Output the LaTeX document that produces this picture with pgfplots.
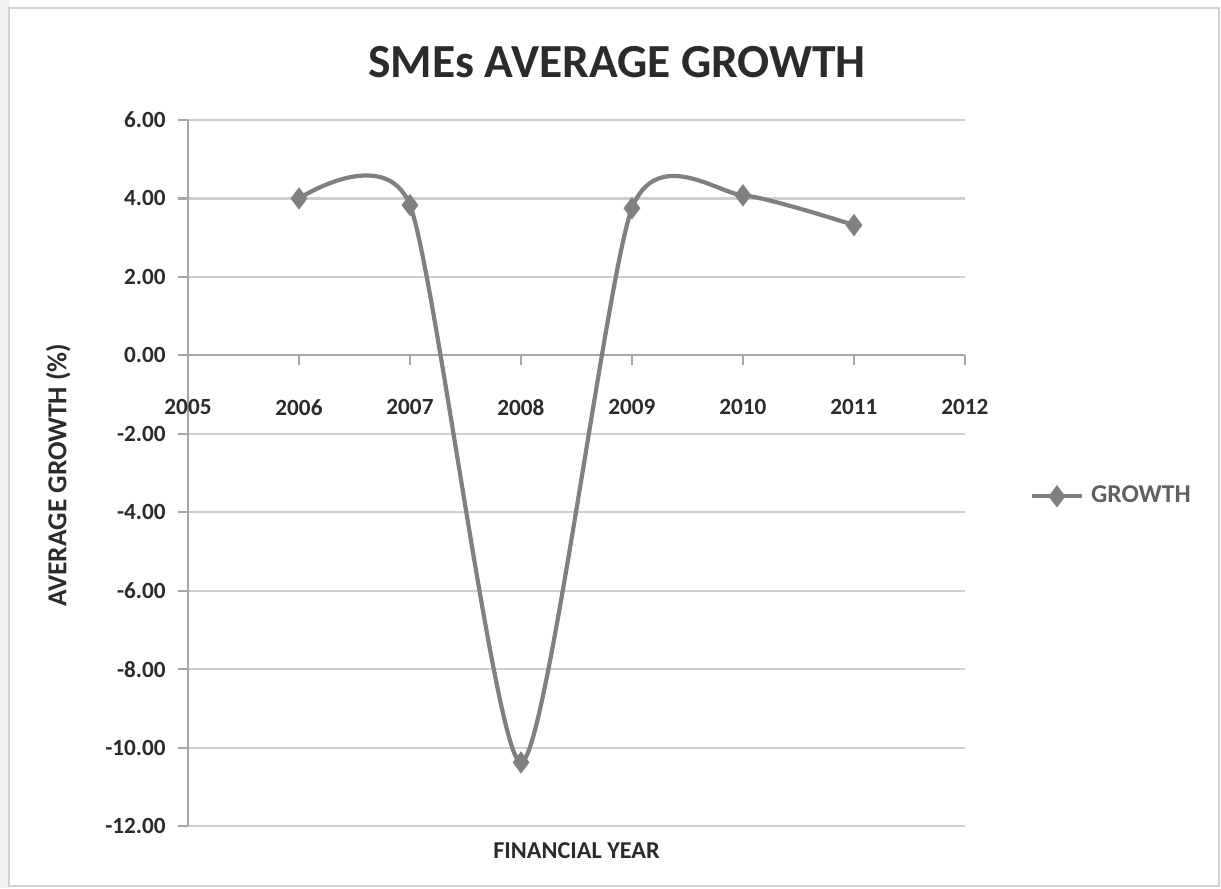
\documentclass[border=0pt]{standalone}
\usepackage{pgfplots}
\pgfplotsset{compat=1.18}
\usepackage{fontspec}
\setmainfont{Carlito}
\definecolor{linegray}{HTML}{808080}
\definecolor{gridgray}{HTML}{CFCFCF}
\definecolor{axisgray}{HTML}{A6A6A6}
\definecolor{txt}{HTML}{2B2B2B}
\begin{document}
\begin{tikzpicture}[x=1cm,y=1cm]
\useasboundingbox (0,0) rectangle (12.21,8.88);
\fill[gray!12] (0,0) rectangle (0.09,8.88);
\draw[gray!35, line width=0.4pt] (0.09,0.02) rectangle (12.19,8.80);
\node[font=\fontsize{13.5}{16}\selectfont\bfseries, text=txt] at (6.17,8.26) {SMEs AVERAGE GROWTH};
\begin{axis}[
  at={(1.88cm,0.62cm)}, anchor=south west,
  scale only axis, width=7.77cm, height=7.06cm,
  xmin=2005, xmax=2012, ymin=-12, ymax=6,
  axis x line=middle, axis y line=left,
  hide obscured x ticks=false,
  axis line style={-, axisgray, line width=0.6pt},
  xtick={2005,2006,...,2012},
  xticklabels={2005,2006,2007,2008,2009,2010,2011,2012},
  ytick={-12,-10,...,6},
  ymajorgrids,
  grid style={gridgray, line width=0.6pt},
  tick style={axisgray, line width=0.6pt},
  major tick length=0.1cm,
  tick align=outside,
  xticklabel style={font=\fontsize{6.6}{8}\selectfont\bfseries, text=txt, yshift=-0.22cm},
  yticklabel style={font=\fontsize{6.6}{8}\selectfont\bfseries, text=txt,
    /pgf/number format/.cd, fixed, fixed zerofill, precision=2, assume math mode=true},
  xlabel={FINANCIAL YEAR},
  xlabel style={at={(rel axis cs:0.5,0)}, anchor=center, yshift=-0.25cm,
    font=\fontsize{6.9}{8}\selectfont\bfseries, text=txt},
  ylabel={AVERAGE GROWTH (\%)},
  ylabel style={at={(axis description cs:-0.167,0.497)}, anchor=center, rotate=0,
    font=\fontsize{7.8}{9}\selectfont\bfseries, text=txt},
  legend style={at={(axis description cs:1.069,0.467)}, anchor=west, draw=none, fill=none,
    font=\fontsize{7.3}{8}\selectfont\bfseries, text=txt!75},
  legend image code/.code={\draw[mark repeat=2,mark phase=2,#1] plot coordinates {(0cm,0cm) (0.25cm,0cm) (0.5cm,0cm)};},
  legend cell align=left,
  clip=false,
]
\addplot[color=linegray, line width=1.2pt, smooth, tension=0.4, mark=diamond*, mark size=2.2pt,
  mark options={fill=linegray, draw=linegray}] coordinates {
  (2006,4.00) (2007,3.83) (2008,-10.38) (2009,3.75) (2010,4.08) (2011,3.32)
};
\addlegendentry{GROWTH}
\end{axis}
\end{tikzpicture}
\end{document}
